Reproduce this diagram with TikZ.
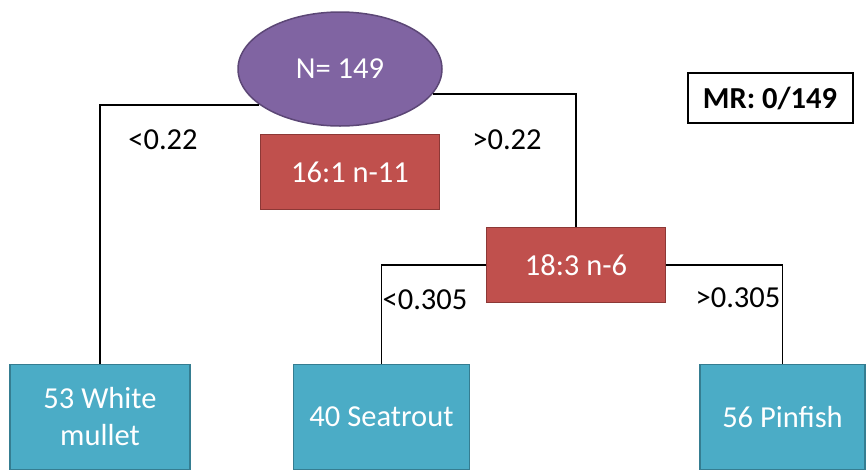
\documentclass[tikz,border=0pt]{standalone}
\usepackage{fontspec}
\setmainfont{Carlito}
\usetikzlibrary{positioning, shapes}

\definecolor{rootfill}{HTML}{8064A2}
\definecolor{rootline}{HTML}{5C4776}
\definecolor{splitfill}{HTML}{C0504D}
\definecolor{splitline}{HTML}{8C3836}
\definecolor{leaffill}{HTML}{4BACC6}
\definecolor{leafline}{HTML}{357D91}

\begin{document}
\begin{tikzpicture}
[
x=1pt, y=-1pt,
font=\fontsize{30.5}{37}\selectfont,
std1/.style={ellipse, fill=rootfill, draw=rootline, line width=1.5pt, text=white, minimum width=204pt, minimum height=114pt},
std2/.style={rectangle, fill=splitfill, draw=splitline, line width=1.5pt, text=white, minimum width=179pt, minimum height=75pt},
std3/.style={rectangle, fill=leaffill, draw=leafline, line width=1.5pt, text=white, align=center, minimum width=178pt, minimum height=105pt},
std4/.style={rectangle, fill=white, draw=black, line width=2pt, minimum width=165pt, minimum height=50pt},
lbl/.style={text=black, inner sep=0pt},
edge/.style={black, line width=1.6pt},
]
\useasboundingbox (0,0) rectangle (867,472);

\node [std1] (root) at (340,69) {N= 149};
\node [std2] (prune) at (350,172) {16:1 n-11};
\node [std2] (split) at (576,265) {18:3 n-6};
\node [std4] (rate) at (770,98) {\textbf{MR: 0/149}};

\node [std3, minimum width=180pt] (mullet) at (100,417) {53 White\\mullet};
\node [std3, minimum width=176pt, right = 102pt of mullet] (seatrout) {40 Seatrout};
\node [std3, minimum width=165pt, right = 229pt of seatrout] (pinfish) {56 Pinfish};

\node [lbl] (lowA) at (163,140) {<0.22};
\node [lbl] (highA) at (507,140) {>0.22};
\node [lbl] (lowB) at (425,300) {<0.305};
\node [lbl] (highB) at (738,298) {>0.305};

\draw [edge] (root.204) -| (mullet.north);
\draw [edge] (root.-15) -| (split.north);
\draw [edge] (split.west) -| (seatrout.north);
\draw [edge] (split.east) -| (pinfish.north);
\end{tikzpicture}
\end{document}
